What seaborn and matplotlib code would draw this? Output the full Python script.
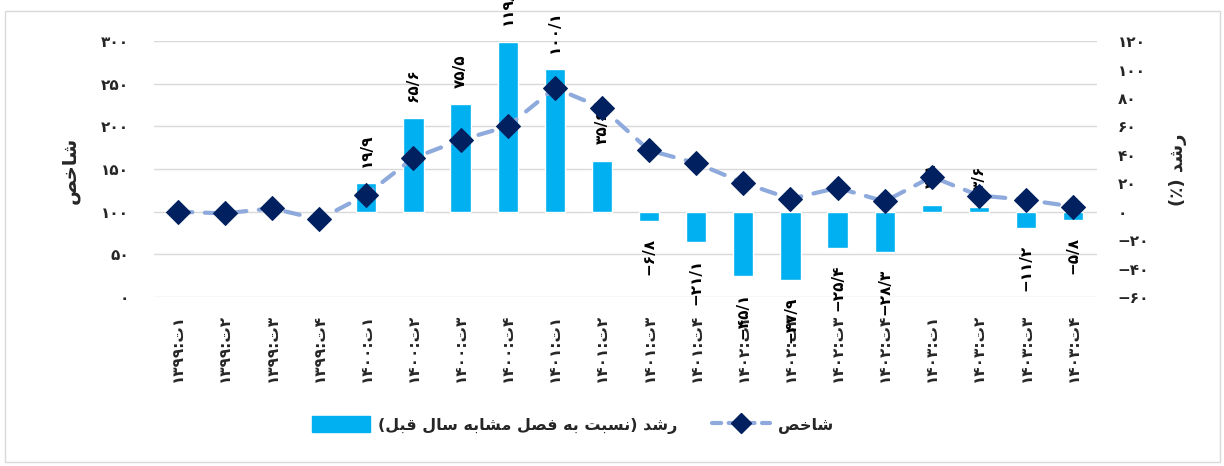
import numpy as np
import pandas as pd
import matplotlib
matplotlib.use("Agg")
import matplotlib.pyplot as plt
import seaborn as sns
from matplotlib.patches import Patch, Rectangle
from matplotlib.lines import Line2D

# ---------------- data ----------------
periods = ["1399:1", "1399:2", "1399:3", "1399:4",
           "1400:1", "1400:2", "1400:3", "1400:4",
           "1401:1", "1401:2", "1401:3", "1401:4",
           "1402:1", "1402:2", "1402:3", "1402:4",
           "1403:1", "1403:2", "1403:3", "1403:4"]
index_vals = [100, 98, 104, 91, 120, 163, 184, 200, 245, 222,
              172, 157, 134, 115, 128, 112, 141, 119, 114, 106]
growth_vals = [np.nan, np.nan, np.nan, np.nan,
               19.9, 65.6, 75.5, 119.3, 100.1, 35.6, -6.8, -21.1,
               -45.1, -47.9, -25.4, -28.3, 4.8, 3.6, -11.2, -5.8]
left_ticks = [0, 50, 100, 150, 200, 250, 300]
right_ticks = [-60, -40, -20, 0, 20, 40, 60, 80, 100, 120]

# Persian text (visual order, presentation forms)
label_index = "\uFEBA\uFEA7\uFE8E\uFEB7"                       # شاخص
label_growth_axis = "(\u066A) \uFEAA\uFEB7\uFEAD"             # رشد (٪)
label_growth_legend = ("(\uFEDE\uFE92\uFED7 \uFEDD\uFE8E\uFEB3 "
                       "\uFEEA\uFE91\uFE8E\uFEB8\uFEE3 \uFEDE\uFEBC\uFED3 "
                       "\uFEEA\uFE91 \uFE96\uFE92\uFEB4\uFEE7) \uFEAA\uFEB7\uFEAD")

FA_DIGITS = str.maketrans("0123456789.-", "۰۱۲۳۴۵۶۷۸۹/\u2212")


def fa(s):
    return str(s).translate(FA_DIGITS)


def period_label(p):
    y, q = p.split(":")
    return fa(y) + ":\u062A" + fa(q)


df = pd.DataFrame({"period": periods, "index": index_vals, "growth": growth_vals})
df["pos"] = np.arange(len(df))

# ---------------- style ----------------
sns.set_theme(style="white")
plt.rcParams["font.family"] = ["DejaVu Sans"]
plt.rcParams["font.weight"] = "bold"

BAR_C = "#00B0F0"
LINE_C = "#8EA9DB"
MARK_C = "#002060"
GRID_C = "#D9D9D9"

fig = plt.figure(figsize=(12.24, 4.66), dpi=100)
ax = fig.add_axes([0.126, 0.3627, 0.77, 0.549])

# bars (growth, right scale)
sns.barplot(data=df, x="period", y="growth", order=periods, color=BAR_C,
            width=0.43, ax=ax, saturation=1, errorbar=None, zorder=2)
ax.set_ylim(-60, 120)
ax.set_xlim(-0.5, len(periods) - 0.5)
ax.set_xlabel("")
ax.set_ylabel("")
ax.grid(False)

# horizontal gridlines follow the left (index) scale: 0..300 step 50 <=> -60..120 step 30
for gv in np.linspace(-60, 120, len(left_ticks)):
    ax.axhline(gv, color=GRID_C, linewidth=1.0, zorder=0)

# line (index, left scale)
ax2 = ax.twinx()
sns.lineplot(data=df, x="pos", y="index", ax=ax2, color=LINE_C, linewidth=3,
             marker="D", markersize=12, markerfacecolor=MARK_C,
             markeredgecolor=MARK_C, zorder=5)
ln = ax2.lines[0]
ln.set_linestyle((0, (3.5, 3)))
ln.set_dash_capstyle("round")
ax2.set_ylim(0, 300)
ax2.set_xlim(-0.5, len(periods) - 0.5)
ax2.set_xlabel("")
ax2.set_ylabel("")
ax2.grid(False)

# right axis (growth) ticks
ax.yaxis.tick_right()
ax.set_yticks(right_ticks)
ax.set_yticklabels([fa(t) for t in right_ticks], fontsize=11, fontweight="bold")
ax.tick_params(axis="y", which="major", length=0, pad=15)
ax.set_xticks(df["pos"])
ax.set_xticklabels([period_label(p) for p in periods], rotation=90,
                   fontsize=11, fontweight="bold")
ax.tick_params(axis="x", length=0, pad=12)

# left axis (index) ticks
ax2.yaxis.tick_left()
ax2.set_yticks(left_ticks)
ax2.set_yticklabels([fa(t) for t in left_ticks], fontsize=11, fontweight="bold")
ax2.tick_params(axis="y", length=0, pad=18)

for a in (ax, ax2):
    for s in a.spines.values():
        s.set_visible(False)

# bar value labels
for xp, v in zip(df["pos"], df["growth"]):
    if np.isnan(v):
        continue
    off = 12 if v >= 0 else -12
    ax.annotate(fa(f"{v:.1f}"), (xp, v), xytext=(0, off), textcoords="offset points",
                rotation=90, ha="center", va="bottom" if v >= 0 else "top",
                fontsize=11, fontweight="bold", color="black", annotation_clip=False)

# axis titles
fig.text(70 / 1224, 1 - 170 / 466, label_index, rotation=90, ha="center", va="center",
         fontsize=14, fontweight="bold")
fig.text(1178 / 1224, 1 - 170 / 466, label_growth_axis, rotation=90, ha="center",
         va="center", fontsize=13, fontweight="bold")

# legend
h_bar = Patch(facecolor=BAR_C, edgecolor=BAR_C)
h_line = Line2D([], [], color=LINE_C, linewidth=3, linestyle=(0, (2.2, 1.8)),
                dash_capstyle="round", marker="D", markersize=10,
                markerfacecolor=MARK_C, markeredgecolor=MARK_C)
fig.legend([h_bar, h_line], [label_growth_legend, label_index], loc="center",
           bbox_to_anchor=(0.468, 0.088), ncol=2, frameon=False,
           prop={"size": 11.5, "weight": "bold"}, handlelength=3.6, handleheight=1.15,
           handletextpad=0.5, columnspacing=2.2, numpoints=1)

# outer frame
fig.patches.append(Rectangle((0.004, 0.008), 0.993, 0.968, transform=fig.transFigure,
                             fill=False, edgecolor=GRID_C, linewidth=1.0))

fig.savefig("out.png", dpi=100)
